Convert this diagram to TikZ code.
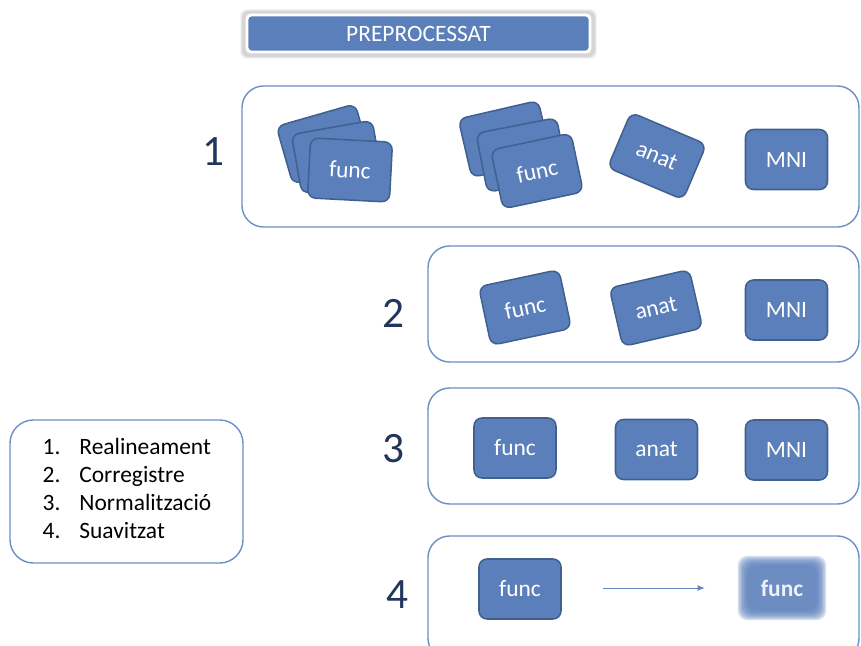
\documentclass[tikz,border=0pt]{standalone}
\usepackage{fontspec}
\setmainfont{Carlito}
\usetikzlibrary{positioning,arrows.meta}

\definecolor{cardblue}{HTML}{5B7FBA}
\definecolor{cardedge}{HTML}{40608F}
\definecolor{panelline}{HTML}{6A8FC7}
\definecolor{numcolor}{HTML}{22365C}

\tikzset{
	card/.style={draw=cardedge, fill=cardblue, line width=1.3pt, rounded corners=0.24cm,
		minimum width=2.46cm, minimum height=1.8cm, inner sep=0pt, text=white,
		font=\fontsize{20}{22}\selectfont},
	panel/.style={draw=panelline, line width=1.2pt, rounded corners=0.65cm, inner sep=0pt},
	stepnum/.style={text=numcolor, font=\fontsize{37}{40}\selectfont},
}

\begin{document}
\begin{tikzpicture}[x=0.03cm, y=-0.03cm]
	
	\useasboundingbox (0,0) rectangle (861,646);
	\clip (0,0) rectangle (861,646);
	
	% title
	\foreach \s/\o in {3/0.04,2/0.06,1/0.08}
		\fill[black, opacity=\o, rounded corners=0.2cm] (243-\s,12-\s) rectangle (594+\s,56+\s);
	\node[draw=white, line width=2.5pt, fill=cardblue, rounded corners=0.12cm,
		minimum width=10.29cm, minimum height=1.11cm, text=white,
		font=\fontsize{20}{22}\selectfont] (title) at (418.5,33.5) {PREPROCESSAT};
	
	% panels
	\node[panel, minimum width=18.51cm, minimum height=4.23cm] (panel1) at (550.5,156.5) {};
	\node[panel, minimum width=12.93cm, minimum height=3.48cm] (panel2) at (643.5,304) {};
	\node[panel, minimum width=12.93cm, minimum height=3.48cm] (panel3) at (643.5,446) {};
	\node[panel, minimum width=12.93cm, minimum height=3.72cm] (panel4) at (643.5,598) {};
	
	\node[stepnum] (num1) at (213,152) {1};
	\node[stepnum] (num2) at (393,313) {2};
	\node[stepnum] (num3) at (393,449) {3};
	\node[stepnum] (num4) at (397,595) {4};
	
	% step 1
	\node[card, rotate=16] (func1c) at (324,144) {};
	\node[card, rotate=10] (func1b) at (337,157) {};
	\node[card, rotate=-3] (func1a) at (350,170) {func};
	\node[card, rotate=13] (func1f) at (505,139) {};
	\node[card, rotate=11] (func1e) at (522,155) {};
	\node[card, rotate=12] (func1d) at (537,171) {func};
	\node[card, rotate=-23] (anat1) at (657,156) {anat};
	\node[card] (mni1) at (786.5,159.5) {MNI};
	
	% step 2
	\node[card, rotate=12] (func2) at (525,307.5) {func};
	\node[card, rotate=13] (anat2) at (656,308) {anat};
	\node[card] (mni2) at (786.5,310) {MNI};
	
	% step 3
	\node[card] (func3) at (515,448) {func};
	\node[card] (anat3) at (656.5,449.5) {anat};
	\node[card] (mni3) at (786.5,450) {MNI};
	
	% step 4
	\node[card] (func4) at (520,589) {func};
	\node[minimum width=2.46cm, minimum height=1.74cm, inner sep=0pt] (funcblur) at (782,588) {};
	\foreach \s in {3,1.5,0,-1.5,-3,-4.5,-6}
		\fill[cardblue, opacity=0.27, rounded corners=0.3cm]
			([shift={(-\s,-\s)}]funcblur.north west) rectangle ([shift={(\s,\s)}]funcblur.south east);
	\node[text=white, opacity=0.88, font=\fontsize{20}{22}\selectfont\bfseries] (blurtext) at (funcblur) {func};
	\draw[panelline!80!cardedge, line width=0.8pt, -{Latex[length=6pt,width=5pt]},
		shorten <=1.23cm, shorten >=1.08cm] (func4.east |- funcblur) -- (funcblur.west);
	
	% legend
	\node[draw=panelline, line width=1.2pt, rounded corners=0.7cm,
		minimum width=6.99cm, minimum height=4.29cm] (legend) at (126.5,491.5) {};
	\node[font=\fontsize{20}{24}\selectfont] (steps) at (127,491) {
		\begin{tabular}{@{}l@{\hspace{0.57cm}}l@{}}
			1. & Realineament \\
			2. & Corregistre \\
			3. & Normalització \\
			4. & Suavitzat
		\end{tabular}
	};
	
\end{tikzpicture}
\end{document}
